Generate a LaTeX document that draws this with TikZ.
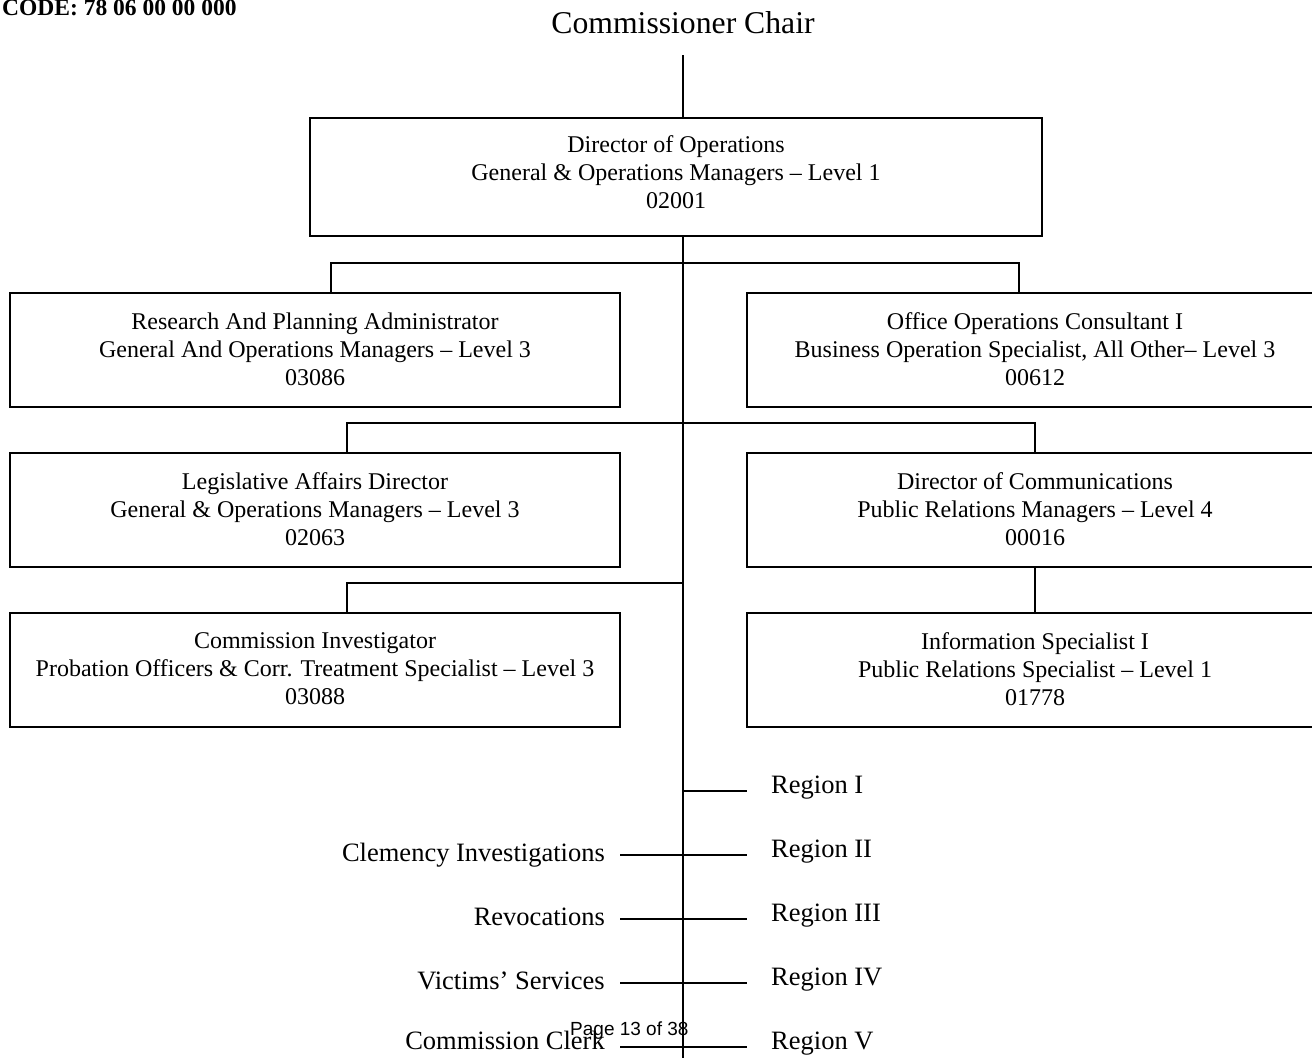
\documentclass[tikz,border=0pt]{standalone}
\usepackage{fontspec}
\setmainfont{Liberation Serif}
\newfontfamily\pagefont{Liberation Sans}
\begin{document}
\begin{tikzpicture}[x=1pt,y=-1pt,
  box/.style={draw,line width=2pt,rectangle,inner sep=0pt,align=center,
    font=\fontsize{24}{28}\selectfont,text depth=2pt},
  boxtext/.style={inner sep=0pt,align=center,font=\fontsize{24}{28}\selectfont,text depth=2pt},
  conn/.style={line width=1.5pt},
  lbl/.style={inner sep=0pt,font=\fontsize{26.5}{30}\selectfont}]
\useasboundingbox (0,0) rectangle (1312,1058);
\clip (0,0) rectangle (1312,1058);
\fill[white] (0,0) rectangle (1312,1058);

\node[anchor=base west,inner sep=0pt,font=\fontsize{23.5}{26}\selectfont\bfseries] (code) at (2,15) {CODE: 78 06 00 00 000};
\node[anchor=base,inner sep=0pt,font=\fontsize{31.7}{36}\selectfont] (chair) at (683,33) {Commissioner Chair};

% boxes
\node[box,text depth=9pt,minimum width=732pt,minimum height=118pt] (dir) at (676,177)
  {Director of Operations\\General \& Operations Managers -- Level 1\\02001};
\node[box,minimum width=610pt,minimum height=114pt] (rpa) at (315,350)
  {Research And Planning Administrator\\General And Operations Managers -- Level 3\\03086};
\node[box,minimum width=610pt,minimum height=114pt] (ooc) at (1052,350) {};
\node[boxtext] (ooct) at (1035,350)
  {Office Operations Consultant I\\Business Operation Specialist, All Other-- Level 3\\00612};
\node[box,minimum width=610pt,minimum height=114pt] (lad) at (315,510)
  {Legislative Affairs Director\\General \& Operations Managers -- Level 3\\02063};
\node[box,minimum width=610pt,minimum height=114pt] (doc) at (1052,510) {};
\node[boxtext] (doct) at (1035,510)
  {Director of Communications\\Public Relations Managers -- Level 4\\00016};
\node[box,minimum width=610pt,minimum height=114pt] (ci) at (315,670)
  {Commission Investigator\\Probation Officers \& Corr. Treatment Specialist -- Level 3\\03088};
\node[box,minimum width=610pt,minimum height=114pt] (isp) at (1052,670) {};
\node[boxtext] (ispt) at (1035,670)
  {Information Specialist I\\Public Relations Specialist -- Level 1\\01778};

% coordinates
\coordinate (top) at (683,55);
\coordinate (bot) at (683,1058);
\coordinate (h1) at (683,263);
\coordinate (h2) at (683,423);
\coordinate (h3) at (683,583);

\draw[conn] (top) -- (top |- dir.north);
\draw[conn] (dir.south -| top) -- (bot);
\draw[conn] (rpa.north -| 331,0) |- (h1) -| (ooc.north -| 1019,0);
\draw[conn] (lad.north -| 347,0) |- (h2) -| (doc.north -| 1035,0);
\draw[conn] (ci.north -| 347,0) |- (h3);
\draw[conn] (doc.south -| 1035,0) -- (isp.north -| 1035,0);

% bottom labels
\foreach \n/\y/\t in {r1/793/Region I,r2/857/Region II,r3/921/Region III,r4/985/Region IV,r5/1049/Region V}{
  \node[lbl,anchor=base west] (\n) at (771,\y) {\t};
}
\foreach \n/\y/\t in {l2/861/Clemency Investigations,l3/925/Revocations,l4/989/Victims’ Services,l5/1049/Commission Clerk}{
  \node[lbl,anchor=base east] (\n) at (605,\y) {\t};
}
\coordinate (c1) at (683,791);
\coordinate (c2) at (620,855);
\coordinate (c3) at (620,919);
\coordinate (c4) at (620,983);
\coordinate (c5) at (620,1047);
\draw[conn] (c1) -- ++(64,0);
\draw[conn] (c2) -- ++(127,0);
\draw[conn] (c3) -- ++(127,0);
\draw[conn] (c4) -- ++(127,0);
\draw[conn] (c5) -- ++(127,0);

\node[anchor=base west,inner sep=0pt,font=\pagefont\fontsize{19}{22}\selectfont] (page) at (570,1035) {Page 13 of 38};
\end{tikzpicture}
\end{document}
